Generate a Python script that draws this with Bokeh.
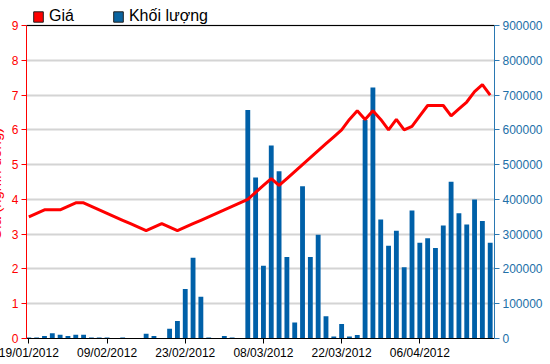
from bokeh.plotting import figure
from bokeh.models import (Range1d, LinearAxis, FixedTicker, Legend, LegendItem, Span,
                          NumeralTickFormatter, ColumnDataSource)
from bokeh.embed import file_html
from bokeh.resources import INLINE

dates = ["19/01/2012", "20/01/2012", "30/01/2012", "31/01/2012", "01/02/2012", "02/02/2012",
         "03/02/2012", "06/02/2012", "07/02/2012", "08/02/2012", "09/02/2012", "10/02/2012",
         "13/02/2012", "14/02/2012", "15/02/2012", "16/02/2012", "17/02/2012", "20/02/2012",
         "21/02/2012", "22/02/2012", "23/02/2012", "24/02/2012", "27/02/2012", "28/02/2012",
         "29/02/2012", "01/03/2012", "02/03/2012", "05/03/2012", "06/03/2012", "07/03/2012",
         "08/03/2012", "09/03/2012", "12/03/2012", "13/03/2012", "14/03/2012", "15/03/2012",
         "16/03/2012", "19/03/2012", "20/03/2012", "21/03/2012", "22/03/2012", "23/03/2012",
         "26/03/2012", "27/03/2012", "28/03/2012", "29/03/2012", "30/03/2012", "03/04/2012",
         "04/04/2012", "05/04/2012", "06/04/2012", "09/04/2012", "10/04/2012", "11/04/2012",
         "12/04/2012", "13/04/2012", "16/04/2012", "17/04/2012", "18/04/2012", "19/04/2012"]

price = [3.5, 3.6, 3.7, 3.7, 3.7, 3.8, 3.9, 3.9, 3.8, 3.7,
         3.6, 3.5, 3.4, 3.3, 3.2, 3.1, 3.2, 3.3, 3.2, 3.1,
         3.2, 3.3, 3.4, 3.5, 3.6, 3.7, 3.8, 3.9, 4.0, 4.2,
         4.4, 4.6, 4.4, 4.6, 4.8, 5.0, 5.2, 5.4, 5.6, 5.8,
         6.0, 6.3, 6.55, 6.3, 6.55, 6.3, 6.0, 6.3, 6.0, 6.1,
         6.4, 6.7, 6.7, 6.7, 6.4, 6.6, 6.8, 7.1, 7.3, 7.0]

volume = [3000, 3000, 7000, 15000, 11000, 7000, 11000, 11000, 3000, 3000,
          3000, 0, 3000, 0, 0, 14000, 7000, 0, 28000, 50000,
          142000, 232000, 120000, 3000, 0, 7000, 3000, 0, 657000, 463000,
          209000, 555000, 481000, 234000, 46000, 438000, 234000, 298000, 64000, 6000,
          42000, 6000, 10000, 628000, 722000, 342000, 267000, 310000, 205000, 368000,
          275000, 288000, 260000, 325000, 451000, 360000, 328000, 400000, 338000, 275000]

date_ticks = [0, 10, 20, 30, 40, 50]
price_ticks = [0, 1, 2, 3, 4, 5, 6, 7, 8, 9]
volume_ticks = [0, 100000, 200000, 300000, 400000, 500000, 600000, 700000, 800000, 900000]

FONT = "Liberation Sans"
RED = "#ff0000"
BLUE_AX = "#2a78b2"

# frame spans canvas top (y=0) to axis bottom; axes stop at their top tick
FRAME_H = 338
AXIS_H = 313
price_top = price_ticks[-1]
vol_top = volume_ticks[-1]

idx = list(range(len(dates)))
src = ColumnDataSource(dict(i=idx, price=price, volume=volume, date=dates))

# canvas starts 20px left of the page so the left title is cut off as in the original
p = figure(width=570, height=364, output_backend="svg", toolbar_location=None,
           x_range=Range1d(-0.3, 59.55),
           y_range=Range1d(0, price_top * FRAME_H / AXIS_H),
           min_border_left=46, min_border_right=56, min_border_top=0, min_border_bottom=26,
           margin=(0, 0, 0, -20))
p.extra_y_ranges = {"vol": Range1d(0, vol_top * FRAME_H / AXIS_H)}
p.background_fill_color = "white"
p.border_fill_color = "white"
p.outline_line_color = None

p.vbar(x="i", top="volume", width=0.62, source=src, y_range_name="vol",
       fill_color="#0060a8", line_color=None)
p.line(x="i", y="price", source=src, line_color=RED, line_width=3)

# grid
p.xgrid.visible = False
p.ygrid.grid_line_color = "#d4d4d4"
p.ygrid.grid_line_width = 2
p.ygrid.ticker = FixedTicker(ticks=price_ticks)
p.add_layout(Span(location=price_top, dimension="width", line_color="#000000", line_width=1))

# left axis
ya = p.yaxis[0]
ya.ticker = FixedTicker(ticks=price_ticks)
ya.bounds = (0, price_top)
ya.axis_line_color = RED
ya.major_tick_line_color = RED
ya.major_tick_out = 5
ya.major_tick_in = 0
ya.minor_tick_line_color = None
ya.major_label_text_color = RED
ya.major_label_text_font = FONT
ya.major_label_text_font_size = "12px"
ya.major_label_standoff = 3
ya.axis_label = "Giá (nghìn đồng)" + "\u00a0" * 7
ya.axis_label_text_color = RED
ya.axis_label_text_font = FONT
ya.axis_label_text_font_size = "15px"
ya.axis_label_text_font_style = "normal"
ya.axis_label_standoff = 5

# right axis
ra = LinearAxis(y_range_name="vol", ticker=FixedTicker(ticks=volume_ticks),
                formatter=NumeralTickFormatter(format="0"), bounds=(0, vol_top))
ra.axis_line_color = BLUE_AX
ra.major_tick_line_color = BLUE_AX
ra.major_tick_out = 5
ra.major_tick_in = 0
ra.minor_tick_line_color = None
ra.major_label_text_color = "#226fa8"
ra.major_label_text_font = FONT
ra.major_label_text_font_size = "12px"
ra.major_label_standoff = 3
p.add_layout(ra, "right")

# bottom axis
xa = p.xaxis[0]
xa.ticker = FixedTicker(ticks=date_ticks)
xa.major_label_overrides = {i: dates[i] for i in date_ticks}
xa.axis_line_color = "#000000"
xa.major_tick_line_color = "#000000"
xa.major_tick_out = 5
xa.major_tick_in = 0
xa.minor_tick_line_color = None
xa.major_label_text_color = "#000000"
xa.major_label_text_font = FONT
xa.major_label_text_font_size = "12px"
xa.major_label_standoff = 2

# legend (square swatches from hidden bar renderers)
leg_price = p.vbar(x="i", top="volume", width=0.5, source=src, y_range_name="vol",
                   fill_color=RED, line_color="#202020", visible=False)
leg_vol = p.vbar(x="i", top="volume", width=0.5, source=src, y_range_name="vol",
                 fill_color="#0a64a0", line_color="#202020", visible=False)
legend = Legend(items=[LegendItem(label="Giá", renderers=[leg_price]),
                       LegendItem(label="Khối lượng", renderers=[leg_vol])],
                orientation="horizontal", location=(6, AXIS_H),
                border_line_color=None, background_fill_alpha=0,
                inactive_fill_alpha=0,
                padding=0, margin=0, spacing=38, label_standoff=5,
                glyph_width=12, glyph_height=13, label_height=16,
                label_text_font=FONT, label_text_font_size="16px",
                label_text_color="#000000")
p.add_layout(legend, "center")

open("out.html", "w").write(file_html(p, INLINE))
